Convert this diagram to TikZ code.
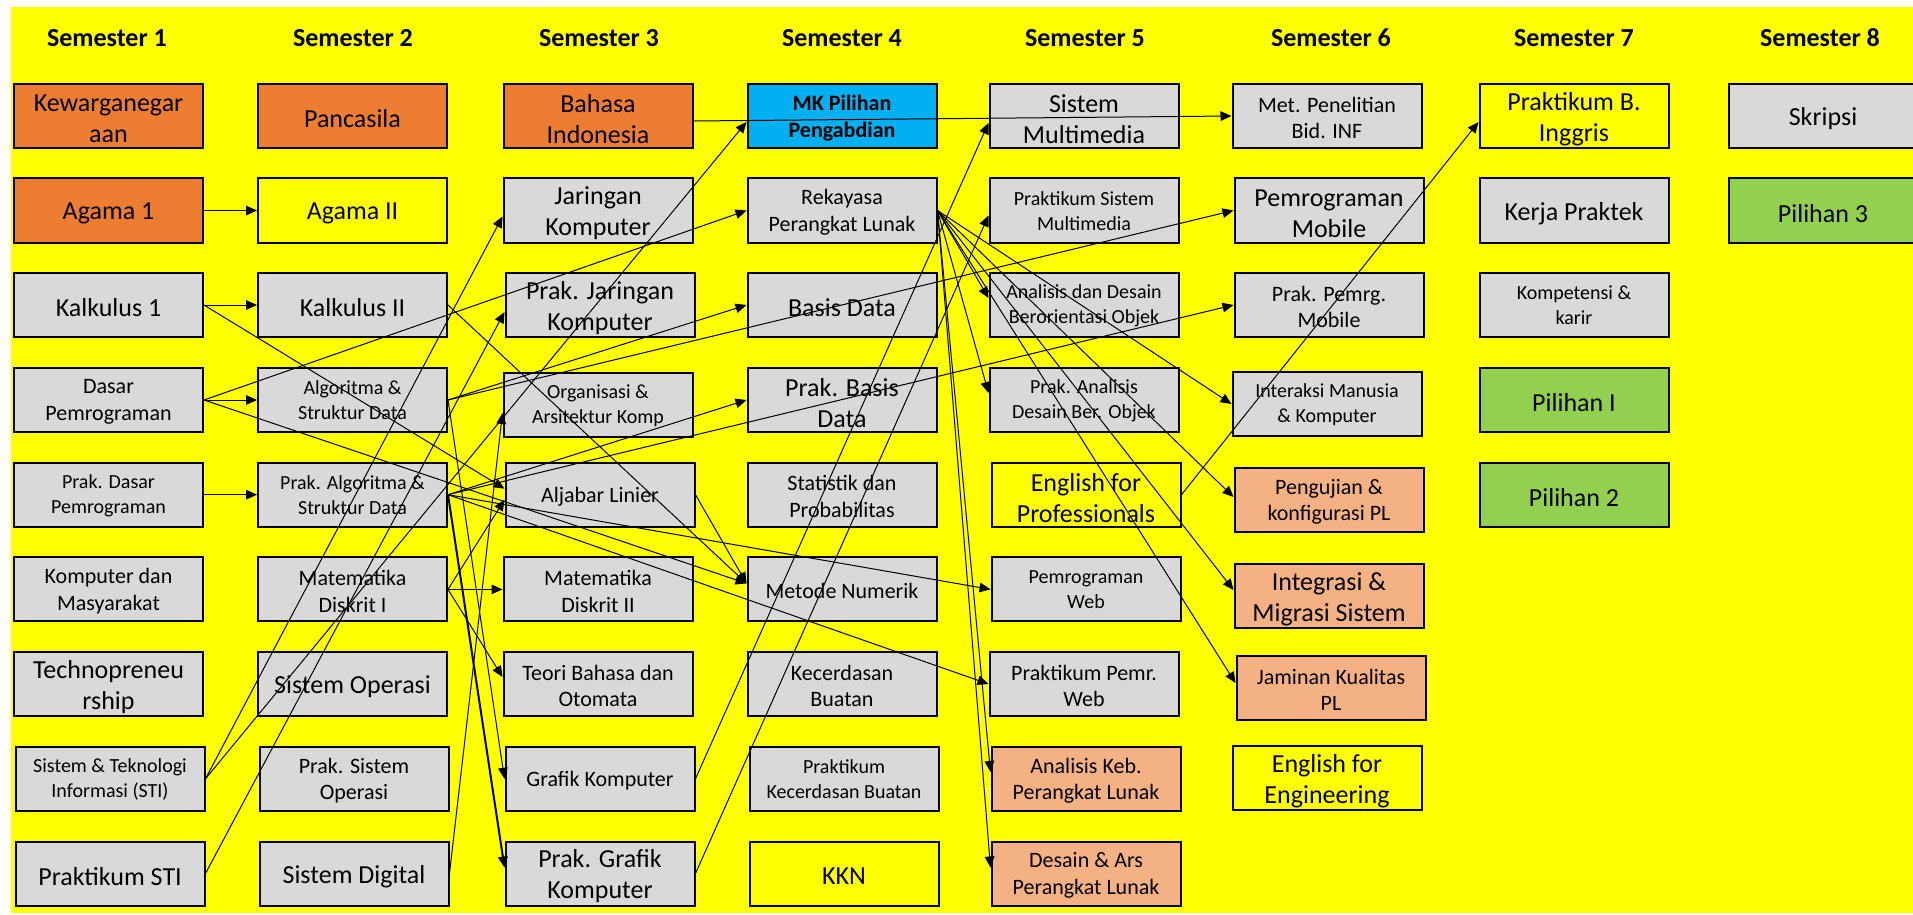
\documentclass[tikz,border=0pt]{standalone}
\usepackage{fontspec}
\setmainfont{Carlito}
\usetikzlibrary{arrows.meta}
\definecolor{bgyellow}{HTML}{FFFF00}
\definecolor{cgray}{HTML}{D9D9D9}
\definecolor{corange}{HTML}{ED7D31}
\definecolor{clorange}{HTML}{F4B183}
\definecolor{ccyan}{HTML}{00B0F0}
\definecolor{cgreen}{HTML}{92D050}
\newcommand{\szL}{\fontsize{13}{15.5}\selectfont}
\newcommand{\szM}{\fontsize{11}{13.3}\selectfont}
\newcommand{\szS}{\fontsize{10}{12.5}\selectfont}
\newcommand{\szH}{\fontsize{13}{15.5}\selectfont\bfseries}
\tikzset{
  course/.style={draw=black, line width=1pt, minimum width=94.5pt, minimum height=32pt,
                 inner sep=0pt},
  gr/.style={course, fill=cgray},
  og/.style={course, fill=corange},
  lo/.style={course, fill=clorange},
  yb/.style={course, fill=bgyellow},
  cy/.style={course, fill=ccyan},
  gn/.style={course, fill=cgreen},
  fL/.style={font=\szL, yshift=-1.5pt},
  fM/.style={font=\szM, yshift=-1pt},
  fS/.style={font=\szS, yshift=-0.3pt},
  hd/.style={font=\szH, inner sep=0pt},
  link/.style={draw=black, line width=0.5pt, -{Triangle[length=5.5pt,width=4.8pt]}}
}
% \course{box style}{name}{x,y}{text style}{text}
\newcommand{\course}[5]{%
  \node[#1] (#2) at (#3) {};
  \node[align=center, inner sep=0pt, text=black, #4] (#2-txt) at (#2.center) {#5};}
\begin{document}
\begin{tikzpicture}[x=0.5pt,y=-0.5pt]
\useasboundingbox (0,0) rectangle (1913,915);
\fill[white] (0,0) rectangle (1913,915);
\fill[bgyellow] (11,7) rectangle (1913,913);

% semester headings
\node[hd] (h1) at (107,38) {Semester 1};
\node[hd] (h2) at (353,38) {Semester 2};
\node[hd] (h3) at (599,38) {Semester 3};
\node[hd] (h4) at (842,38) {Semester 4};
\node[hd] (h5) at (1085,38) {Semester 5};
\node[hd] (h6) at (1331,38) {Semester 6};
\node[hd] (h7) at (1574,38) {Semester 7};
\node[hd] (h8) at (1820,38) {Semester 8};

% semester 1
\course{og}{kwn}{108.5,116}{fL}{Kewarganegar\\aan}
\course{og}{ag1}{108.5,210.5}{fL}{Agama 1}
\course{gr}{kal1}{108.5,305}{fL}{Kalkulus 1}
\course{gr}{dp}{108.5,400}{fM}{Dasar\\Pemrograman}
\course{gr}{pdp}{108.5,494.7}{fS}{Prak. Dasar\\Pemrograman}
\course{gr}{kdm}{108.5,589.4}{fM}{Komputer dan\\Masyarakat}
\course{gr}{tech}{108.5,684}{fL}{Technopreneu\\rship}
\course{gr}{sti}{110,778.8}{fS}{Sistem \& Teknologi\\Informasi (STI)}
\course{gr}{psti}{110,873.5}{fL}{Praktikum STI}

% semester 2
\course{og}{panc}{352.5,116}{fL}{Pancasila}
\course{yb}{ag2}{352.5,210.5}{fL}{Agama II}
\course{gr}{kal2}{352.5,305}{fL}{Kalkulus II}
\course{gr}{asd}{352.5,400}{fS}{Algoritma \&\\Struktur Data}
\course{gr}{pasd}{352.5,494.7}{fS}{Prak. Algoritma \&\\Struktur Data}
\course{gr}{md1}{352.5,589.4}{fM}{Matematika\\Diskrit I}
\course{gr}{so}{352.5,684}{fL}{Sistem Operasi}
\course{gr}{pso}{354,778.8}{fM}{Prak. Sistem\\Operasi}
\course{gr}{sd}{354,873.5}{fL}{Sistem Digital}

% semester 3
\course{og}{bi}{598,116}{fL}{Bahasa\\Indonesia}
\course{gr}{jk}{598,210.5}{fL}{Jaringan\\Komputer}
\course{gr}{pjk}{600,305}{fL}{Prak. Jaringan\\Komputer}
\course{gr}{oak}{598,405}{fS}{Organisasi \&\\Arsitektur Komp}
\course{gr}{al}{600,494.7}{fM}{Aljabar Linier}
\course{gr}{md2}{598,589.4}{fM}{Matematika\\Diskrit II}
\course{gr}{tbo}{598,684}{fM}{Teori Bahasa dan\\Otomata}
\course{gr}{gk}{600,778.8}{fM}{Grafik Komputer}
\course{gr}{pgk}{600,873.5}{fL}{Prak. Grafik\\Komputer}

% semester 4
\course{cy}{mkp}{842,116}{fM,font=\szM\bfseries}{MK Pilihan\\Pengabdian}
\course{gr}{rpl}{842,210.5}{fM}{Rekayasa\\Perangkat Lunak}
\course{gr}{bd}{842,305}{fL}{Basis Data}
\course{gr}{pbd}{842,400}{fL}{Prak. Basis\\Data}
\course{gr}{stat}{842,494.7}{fM}{Statistik dan\\Probabilitas}
\course{gr}{mn}{842,589.4}{fM}{Metode Numerik}
\course{gr}{kb}{842,684}{fM}{Kecerdasan\\Buatan}
\course{gr}{pkb}{844,778.8}{fS}{Praktikum\\Kecerdasan Buatan}
\course{yb}{kkn}{844,873.5}{fL}{KKN}

% semester 5
\course{gr}{smm}{1084,116}{fL}{Sistem\\Multimedia}
\course{gr}{psmm}{1084,210.5}{fS}{Praktikum Sistem\\Multimedia}
\course{gr}{adbo}{1084,305}{fS}{Analisis dan Desain\\Berorientasi Objek}
\course{gr}{padbo}{1084,400}{fS}{Prak. Analisis\\Desain Ber. Objek}
\course{yb}{efp}{1086,494.7}{fL}{English for\\Professionals}
\course{gr}{pw}{1086,589.4}{fS}{Pemrograman\\Web}
\course{gr}{ppw}{1084,684}{fM}{Praktikum Pemr.\\Web}
\course{lo}{akpl}{1086,778.8}{fM}{Analisis Keb.\\Perangkat Lunak}
\course{lo}{dapl}{1086,873.5}{fM}{Desain \& Ars\\Perangkat Lunak}

% semester 6
\course{gr}{mpi}{1327,116}{fM}{Met. Penelitian\\Bid. INF}
\course{gr}{pm}{1329,210.5}{fL}{Pemrograman\\Mobile}
\course{gr}{ppm}{1329,305}{fM}{Prak. Pemrg.\\Mobile}
\course{gr}{imk}{1327,404}{fS}{Interaksi Manusia\\\& Komputer}
\course{lo}{pkpl}{1329,500}{fM}{Pengujian \&\\konfigurasi PL}
\course{lo}{ims}{1329,596}{fL}{Integrasi \&\\Migrasi Sistem}
\course{lo}{jkpl}{1331,688}{fM}{Jaminan Kualitas\\PL}
\course{yb}{efe}{1327,778}{fL}{English for\\Engineering}

% semester 7
\course{yb}{pbi}{1574,116}{fL}{Praktikum B.\\Inggris}
\course{gr}{kp}{1574,210.5}{fL}{Kerja Praktek}
\course{gr}{kk}{1574,305}{fS}{Kompetensi \&\\karir}
\course{gn}{p1}{1574,400}{fL}{Pilihan I}
\course{gn}{p2}{1574,494.7}{fL}{Pilihan 2}

% semester 8
\course{gr}{skr}{1823,116}{fL}{Skripsi}
\course{gn}{p3}{1823,210.5}{fL}{Pilihan 3}

% prerequisites
\draw[link] (ag1.east) -- (ag2.west);
\draw[link] (kal1.east) -- (kal2.west);
\draw[link] (kal1.east) -- ([yshift=3pt]al.west);
\draw[link] (dp.east) -- (asd.west);
\draw[link] (dp.east) -- (rpl.west);
\draw[link] (dp.east) -- ([yshift=3pt]mn.west);
\draw[link] (pdp.east) -- (pasd.west);
\draw[link] (kal2.east) -- ([yshift=3pt]mn.west);
\draw[link] (asd.east) -- (bd.west);
\draw[link] (asd.east) -- (pm.west);
\draw[link] (asd.east) -- (gk.west);
\draw[link] (pasd.east) -- (pbd.west);
\draw[link] (pasd.east) -- (ppm.west);
\draw[link] (pasd.east) -- (pw.west);
\draw[link] (pasd.east) -- (ppw.west);
\draw[link, line width=1pt] (pasd.east) -- ([yshift=3pt]pgk.west);
\draw[link] (md1.east) -- (md2.west);
\draw[link] (md1.east) -- ([yshift=-2.5pt]al.west);
\draw[link] (md1.east) -- ([yshift=3.5pt]tbo.west);
\draw[link] (sti.east) -- ([yshift=-3pt]jk.west);
\draw[link] (sti.east) -- ([yshift=-3pt]mkp.west);
\draw[link] (psti.east) -- ([yshift=-3.5pt]pjk.west);
\draw[link] (sd.east) -- ([yshift=-4pt]oak.west);
\draw[link] ([yshift=-2.5pt]bi.east) -- (mpi.west);
\draw[link] (al.east) -- ([yshift=3pt]mn.west);
\draw[link] (gk.east) -- ([yshift=-3.5pt]smm.west);
\draw[link] (pgk.east) -- ([yshift=-2.5pt]psmm.west);
\foreach \t/\s in {adbo/3.5pt, padbo/3.5pt, imk/0pt, pkpl/1.5pt, ims/3pt, jkpl/2.5pt, akpl/3.4pt, dapl/3pt}
  \draw[link] (rpl.east) -- ([yshift=\s]\t.west);
\draw[link] (efp.east) -- ([yshift=-3pt]pbi.west);
\end{tikzpicture}
\end{document}
